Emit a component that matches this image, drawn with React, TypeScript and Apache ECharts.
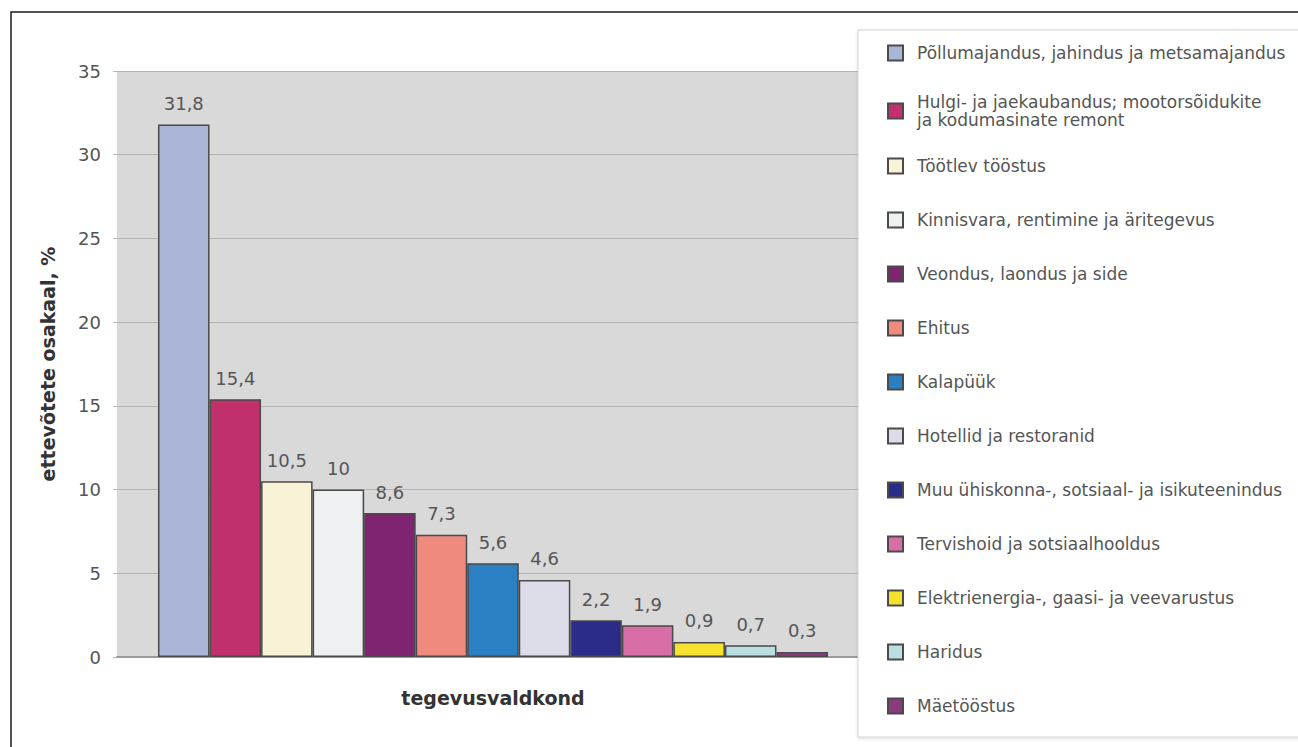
import React, { useEffect, useRef } from "react";
import * as echarts from "echarts";

const sectors = [
  "Põllumajandus, jahindus ja metsamajandus",
  "Hulgi- ja jaekaubandus; mootorsõidukite ja kodumasinate remont",
  "Töötlev tööstus",
  "Kinnisvara, rentimine ja äritegevus",
  "Veondus, laondus ja side",
  "Ehitus",
  "Kalapüük",
  "Hotellid ja restoranid",
  "Muu ühiskonna-, sotsiaal- ja isikuteenindus",
  "Tervishoid ja sotsiaalhooldus",
  "Elektrienergia-, gaasi- ja veevarustus",
  "Haridus",
  "Mäetööstus",
];

const shares = [31.8, 15.4, 10.5, 10, 8.6, 7.3, 5.6, 4.6, 2.2, 1.9, 0.9, 0.7, 0.3];

const colors = [
  "#aab5d8",
  "#c2306b",
  "#f8f2d6",
  "#eef1f1",
  "#7f2470",
  "#ee8b7e",
  "#2b7fc3",
  "#dcdde8",
  "#2b2c8a",
  "#d76fa6",
  "#f5e12e",
  "#b9dfe0",
  "#8b3a80",
];

const yMin = 0;
const yMax = 35;
const yStep = 5;

const xTitle = "tegevusvaldkond";
const yTitle = "ettevõtete osakaal, %";

const FONT = "'DejaVu Sans', 'Liberation Sans', Arial, sans-serif";

export default function App() {
  const ref = useRef<HTMLDivElement>(null);

  useEffect(() => {
    if (!ref.current) return;
    const chart = echarts.init(ref.current, null, { renderer: "svg" });

    const series = sectors.map((name, i) => ({
      type: "bar",
      name,
      data: [shares[i]],
      barGap: "0%",
      barCategoryGap: "10.9%",
      itemStyle: {
        color: colors[i],
        borderColor: "#4a4a4a",
        borderWidth: 1.5,
      },
      label: {
        show: true,
        position: "top",
        distance: 12,
        color: "#555555",
        fontSize: 18,
        fontFamily: FONT,
        formatter: (p: any) => String(p.value).replace(".", ","),
      },
      emphasis: { disabled: true },
    }));

    const legendCommon = {
      orient: "vertical",
      left: 887,
      padding: 0,
      itemWidth: 15,
      itemHeight: 15,
      icon: "rect",
      selectedMode: false,
      textStyle: {
        color: "#555555",
        fontSize: 17,
        fontFamily: FONT,
        lineHeight: 18,
        padding: [0, 0, 0, 9],
      },
      formatter: (name: string) =>
        name === sectors[1]
          ? "Hulgi- ja jaekaubandus; mootorsõidukite\nja kodumasinate remont"
          : name,
    };

    chart.setOption({
      animation: false,
      textStyle: { fontFamily: FONT },
      grid: {
        left: 117,
        top: 71,
        right: 429,
        bottom: 90,
        show: true,
        backgroundColor: "#d9d9d9",
        borderWidth: 0,
      },
      xAxis: {
        type: "category",
        data: [""],
        name: xTitle,
        nameLocation: "middle",
        nameGap: 31,
        nameTextStyle: {
          fontSize: 19,
          fontWeight: "bold",
          color: "#333333",
          fontFamily: FONT,
        },
        axisLine: { show: true, lineStyle: { color: "#9a9a9a", width: 2 } },
        axisTick: { show: false },
        axisLabel: { show: false },
        splitLine: { show: false },
      },
      yAxis: {
        type: "value",
        min: yMin,
        max: yMax,
        interval: yStep,
        name: yTitle,
        nameLocation: "middle",
        nameGap: 60,
        nameTextStyle: {
          fontSize: 19,
          fontWeight: "bold",
          color: "#333333",
          fontFamily: FONT,
        },
        axisLine: { show: false },
        axisTick: { show: true, length: 4, lineStyle: { color: "#b4b4b4" } },
        axisLabel: {
          color: "#555555",
          fontSize: 18,
          fontFamily: FONT,
          margin: 16,
        },
        splitLine: { show: true, lineStyle: { color: "#b4b4b4", width: 1 } },
      },
      legend: [
        {
          ...legendCommon,
          top: 44,
          itemGap: 31,
          data: sectors.slice(0, 2),
        },
        {
          ...legendCommon,
          top: 157,
          itemGap: 36,
          data: sectors.slice(2),
        },
      ],
      graphic: [
        {
          type: "rect",
          silent: true,
          z: 3,
          shape: { x: 858, y: 30, width: 500, height: 707 },
          style: {
            fill: "#ffffff",
            stroke: "#d4d4d4",
            lineWidth: 1,
            shadowColor: "rgba(0,0,0,0.15)",
            shadowBlur: 3,
            shadowOffsetY: 1,
          },
        },
        {
          type: "rect",
          silent: true,
          z: 100,
          shape: { x: 11, y: 12, width: 1400, height: 800 },
          style: { fill: "none", stroke: "#1a1a1a", lineWidth: 1.5 },
        },
      ],
      series,
    });

    return () => {
      chart.dispose();
    };
  }, []);

  return (
    <div
      ref={ref}
      style={{
        position: "fixed",
        left: 0,
        top: 0,
        width: "1298px",
        height: "747px",
        background: "#ffffff",
      }}
    />
  );
}
